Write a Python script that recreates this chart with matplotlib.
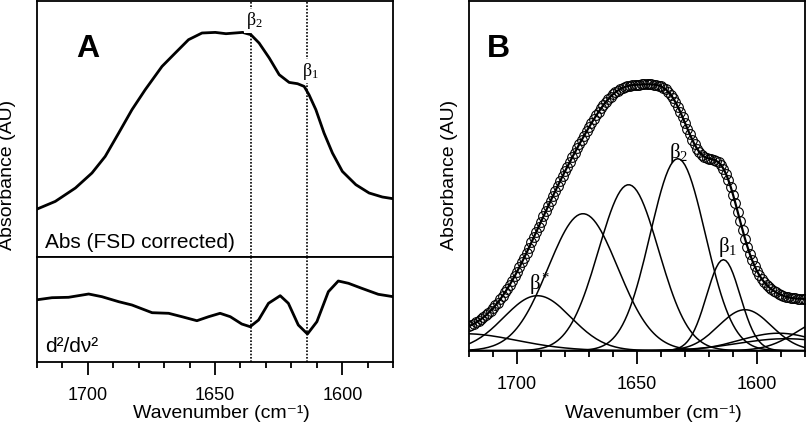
import numpy as np
import matplotlib
matplotlib.use('Agg')
from matplotlib import pyplot as plt
from matplotlib.ticker import MultipleLocator

plt.rcParams['font.family'] = ['Liberation Sans', 'DejaVu Sans']
plt.rcParams['mathtext.fontset'] = 'custom'
plt.rcParams['mathtext.rm'] = 'Liberation Serif'
plt.rcParams['mathtext.it'] = 'Liberation Serif'
plt.rcParams['mathtext.sf'] = 'Liberation Sans'
plt.rcParams['lines.solid_joinstyle'] = 'round'

# panel A, FSD corrected absorbance (arbitrary units)
abs_wn = [1719.8, 1712.7, 1704.8, 1698.3, 1693.1, 1687.8, 1682.6, 1677.4, 1670.8,
          1665.6, 1660.4, 1655.1, 1649.9, 1645.7, 1639.2, 1635.9, 1632.7, 1628.7,
          1624.8, 1620.9, 1617.6, 1615.0, 1613.1, 1610.4, 1607.2, 1603.9, 1600.0,
          1594.7, 1589.5, 1584.3, 1580.1]
abs_val = [47.7, 55.3, 68.7, 83.7, 100.3, 123.7, 147, 167, 190.3,
           203.7, 217, 223.7, 224.3, 223, 224.3, 222, 213.7, 198.7,
           182, 174.3, 173, 170.3, 162, 147, 123.7, 103.7, 85.3,
           72, 63.7, 59.7, 58]

# panel A, second derivative
d2_wn = [1720.5, 1714, 1707.5, 1699.6, 1694.4, 1687.8, 1682.6, 1674.7, 1668.2, 1663,
         1657.1, 1652.5, 1648, 1644, 1639.5, 1636.2, 1632.9, 1629, 1624.4, 1621.2,
         1617.3, 1613.7, 1610, 1605.5, 1601.6, 1597.6, 1592.4, 1585.9, 1580]
d2_val = [62, 64.3, 64.7, 68, 65.3, 60.3, 57, 49.3, 48.7, 45.3,
          41.3, 45.3, 48.7, 45.3, 38, 35.3, 42, 58.7, 66.3, 58.7,
          37, 28, 40.3, 70.3, 81, 78.7, 73.7, 67.7, 65.3]

beta_lines = [1636, 1614]

# panel B, fitted bands: centre, height, sigma
band_center = [1722, 1691.5, 1672.5, 1653.5, 1633, 1614, 1605, 1591, 1588, 1570]
band_height = [17, 55, 137, 166, 192, 91, 41, 17.5, 12, 32]
band_sigma = [22, 14, 14.5, 12.5, 11.5, 7, 11, 16, 20, 13]

W, H = 810, 425
fig = plt.figure(figsize=(8.1, 4.25), dpi=100)

def box(l, t, r, b):
    return [l / W, 1 - b / H, (r - l) / W, (b - t) / H]

ax_up = fig.add_axes(box(36.7, 1, 393.3, 256.7))
ax_lo = fig.add_axes(box(36.7, 256.7, 393.3, 362))
ax_b = fig.add_axes(box(469, 1, 805, 350.7))

for ax in (ax_up, ax_lo, ax_b):
    ax.set_xlim(1720, 1580)
    for s in ax.spines.values():
        s.set_linewidth(1.3)
    ax.set_yticks([])

ax_up.set_xticks([])
for ax in (ax_lo, ax_b):
    ax.xaxis.set_major_locator(MultipleLocator(50))
    ax.xaxis.set_minor_locator(MultipleLocator(10))
    ax.tick_params(axis='x', which='major', direction='out', length=9, width=1.3,
                   pad=9, labelsize=13)
    ax.tick_params(axis='x', which='minor', direction='out', length=4.5, width=1.3)

# panel A
ax_up.plot(abs_wn, abs_val, color='black', lw=2)
ax_up.set_ylim(0, 255.7)
ax_lo.plot(d2_wn, d2_val, color='black', lw=2)
ax_lo.set_ylim(0, 105.3)
for wn in beta_lines:
    ax_up.axvline(wn, color='black', lw=1.2, ls=(0, (1, 1)), zorder=1)
    ax_lo.axvline(wn, color='black', lw=1.2, ls=(0, (1, 1)), zorder=1)

ax_up.text(1634.6, 0.922 * 255.7, r'$\beta_2$', fontsize=13, ha='center', va='center',
           bbox=dict(fc='white', ec='none', pad=1), zorder=3)
ax_up.text(1612.7, 0.726 * 255.7, r'$\beta_1$', fontsize=13, ha='center', va='center',
           bbox=dict(fc='white', ec='none', pad=1), zorder=3)
ax_up.text(0.142, 0.782, 'A', transform=ax_up.transAxes, fontsize=23,
           fontweight='bold', ha='center', va='baseline')
ax_up.text(0.023, 0.035, 'Abs (FSD corrected)', transform=ax_up.transAxes,
           fontsize=15, ha='left', va='baseline')
ax_lo.text(0.023, 0.098, 'd²/dν²', transform=ax_lo.transAxes,
           fontsize=15, ha='left', va='baseline')

# panel B
grid = np.arange(1580, 1721, 1.0)
total = np.zeros_like(grid)
for c, h, s in zip(band_center, band_height, band_sigma):
    comp = h * np.exp(-(grid - c) ** 2 / (2 * s ** 2))
    total += comp
    ax_b.plot(grid, comp, color='black', lw=1.1)
ax_b.plot(grid, total, color='black', lw=1.6)
ax_b.plot(grid, total, ls='none', marker='o', ms=7, mfc='none', mec='black', mew=0.8)
ax_b.set_ylim(0, 349.7)

ax_b.text(1695.1, 60.7, r'$\beta^{*}$', fontsize=15, ha='left', va='baseline')
ax_b.text(1636.5, 193, r'$\beta_2$', fontsize=15, ha='left', va='baseline')
ax_b.text(1616.3, 99, r'$\beta_1$', fontsize=15, ha='left', va='baseline')
ax_b.text(0.089, 0.840, 'B', transform=ax_b.transAxes, fontsize=23,
          fontweight='bold', ha='center', va='baseline')

# axis titles
fig.text(7.5 / W, 1 - 175 / H, 'Absorbance (AU)', rotation=90, fontsize=14,
         ha='center', va='center')
fig.text(450 / W, 1 - 175 / H, 'Absorbance (AU)', rotation=90, fontsize=14,
         ha='center', va='center')
fig.text(221 / W, 1 - 413 / H, 'Wavenumber (cm⁻¹)', fontsize=14, ha='center', va='center')
fig.text(653 / W, 1 - 414 / H, 'Wavenumber (cm⁻¹)', fontsize=14, ha='center', va='center')

fig.savefig('out.png', dpi=100)
